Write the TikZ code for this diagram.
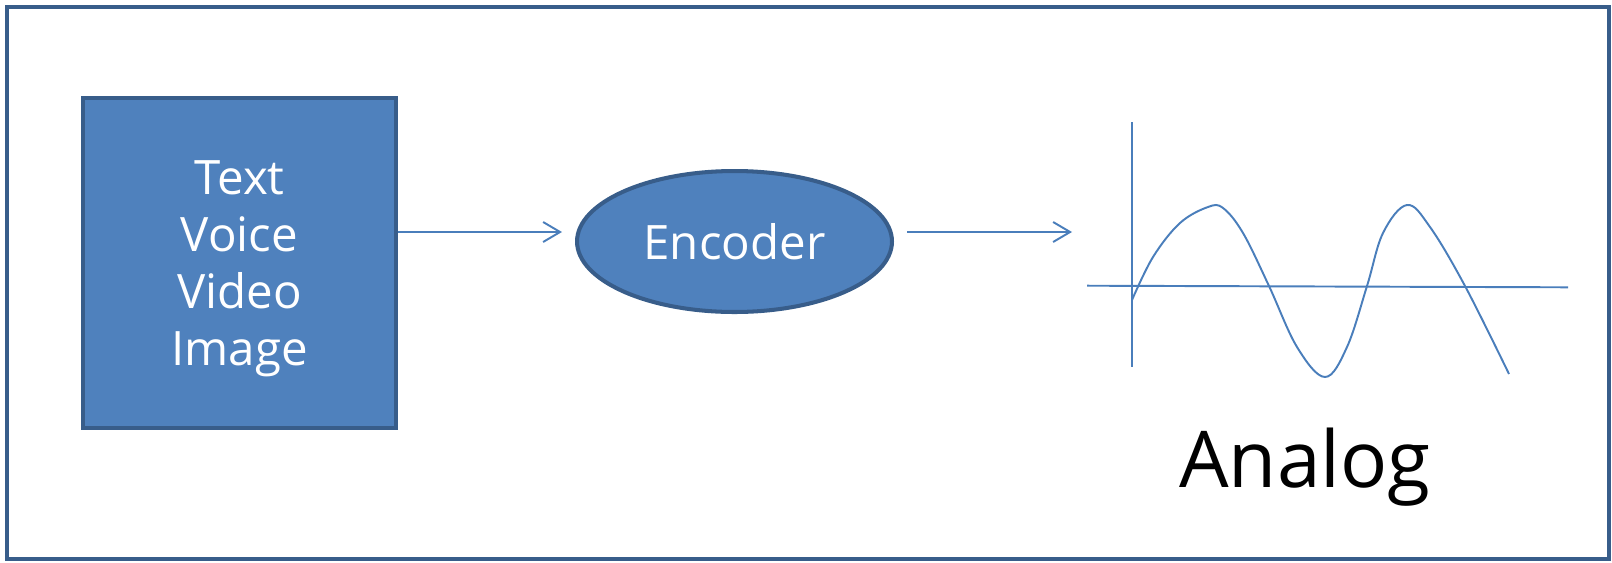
\documentclass[tikz,border=0pt]{standalone}
\usepackage{fontspec}
\setmainfont{Open Sans}
\usetikzlibrary{shapes.geometric, arrows.meta}
\definecolor{boxfill}{HTML}{4F81BD}
\definecolor{boxline}{HTML}{385D8A}
\definecolor{wire}{HTML}{4A7EBB}
\tikzstyle{frame} = [draw=boxline, line width=2.3pt]
\tikzstyle{source} = [rectangle, minimum width=6.26cm, minimum height=6.6cm, inner sep=0pt, align=center, text depth=-2.7pt, text=white, draw=boxline, line width=2.3pt, fill=boxfill, font=\fontsize{27}{32.6}\selectfont]
\tikzstyle{coder} = [ellipse, minimum width=6.3cm, minimum height=2.82cm, inner sep=0pt, text=white, draw=boxline, line width=2.3pt, fill=boxfill, font=\fontsize{27}{32.6}\selectfont]
\tikzstyle{arrow} = [draw=wire, line width=1.1pt, -{Straight Barb[length=3.4mm,width=4mm]}]
\tikzstyle{axis} = [draw=wire, line width=1.1pt]

\begin{document}
\begin{tikzpicture}[x=0.02cm, y=-0.02cm]

\useasboundingbox (0,0) rectangle (1612,562);
\draw [frame] (7,7) rectangle (1609,559);

\node (src) [source] at (239.5,263) {Text\\Voice\\Video\\Image};
\node (enc) [coder] at (734.5,241.5) {Encoder};

% ends of the two arrows
\coordinate (in1) at (562,232);
\coordinate (out2) at (907,232);
\coordinate (in2) at (1072,232);

\draw [arrow] (src.east |- in1) -- (in1);
\draw [arrow] (out2) -- (in2);

% axes of the signal plot
\coordinate (ytop) at (1132,122);
\coordinate (ybot) at (1132,367);
\coordinate (xleft) at (1087,285.7);
\coordinate (xright) at (1568,287.3);
\draw [axis] (ytop) -- (ybot);
\draw [axis] (xleft) -- (xright);

% the analog wave
\draw [axis] plot [smooth, tension=0.6] coordinates {
  (1132,300) (1153,257) (1180,223) (1208,207) (1223,208) (1243,233)
  (1269,286) (1297,347) (1325,377) (1347,347) (1367,286) (1383,233)
  (1407,205) (1430,227) (1465,286) (1509,374)};

\node (lbl) [anchor=base, font=\fontsize{44.6}{50}\selectfont] at (1305,487) {Analog};

\end{tikzpicture}
\end{document}
